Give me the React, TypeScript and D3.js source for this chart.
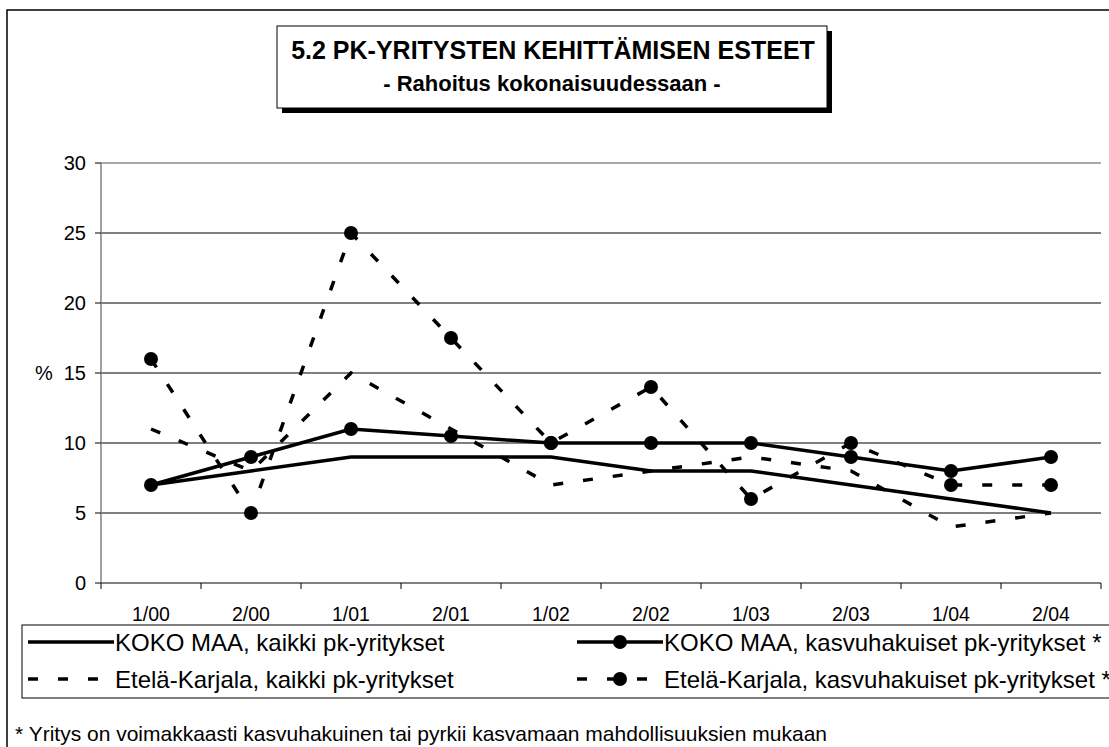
import * as d3 from "d3";

const categories = ["1/00", "2/00", "1/01", "2/01", "1/02", "2/02", "1/03", "2/03", "1/04", "2/04"];
const kokoKaikki = [7, 8, 9, 9, 9, 8, 8, 7, 6, 5];
const kokoKasvu = [7, 9, 11, 10.5, 10, 10, 10, 9, 8, 9];
const ekKaikki = [11, 8, 15, 11, 7, 8, 9, 8, 4, 5];
const ekKasvu = [16, 5, 25, 17.5, 10, 14, 6, 10, 7, 7];
const yTicks = [0, 5, 10, 15, 20, 25, 30];

const seriesNames = [
    "KOKO MAA, kaikki pk-yritykset",
    "KOKO MAA, kasvuhakuiset pk-yritykset *",
    "Etelä-Karjala, kaikki pk-yritykset",
    "Etelä-Karjala, kasvuhakuiset pk-yritykset *",
];

const width = 1109,
    height = 747;
const margin = { top: 163, bottom: 164, left: 101 };
const font = "Arial, 'Liberation Sans', sans-serif";
const DASH = "10,20";

function App() {
    const xScale = d3
        .scaleBand()
        .domain(categories)
        .range([margin.left, margin.left + 1000]);
    const yScale = d3
        .scaleLinear()
        .domain([0, 30])
        .range([height - margin.bottom, margin.top]);

    const cx = (i: number) => xScale(categories[i])! + xScale.bandwidth() / 2;

    const lineGenerator = d3
        .line<number>()
        .x((d, i) => cx(i))
        .y((d) => yScale(d));

    const series = [
        { name: seriesNames[0], values: kokoKaikki, dash: null, marker: false },
        { name: seriesNames[1], values: kokoKasvu, dash: null, marker: true },
        { name: seriesNames[2], values: ekKaikki, dash: DASH, marker: false },
        { name: seriesNames[3], values: ekKasvu, dash: DASH, marker: true },
    ];

    const x0 = xScale.range()[0];
    const x1 = xScale.range()[1];
    const y0 = yScale(0);

    // legend: kaksi saraketta, kaksi riviä
    const legendCols = [28, 577];
    const legendRows = [642, 679];

    return (
        <svg
            width={width}
            height={height}
            style={{ position: "absolute", left: 0, top: 0, background: "#fff" }}
            fontFamily={font}
        >
            <rect x={0} y={0} width={width} height={height} fill="#fff" />
            {/* outer frame */}
            <rect x={7} y={10} width={1120} height={760} fill="none" stroke="#000" strokeWidth={1.5} />

            {/* title */}
            <rect x={282} y={31} width={550} height={82} fill="#000" />
            <rect x={277} y={26} width={550} height={82} fill="#fff" stroke="#000" strokeWidth={1} />
            <text x={553} y={50} dy="0.36em" textAnchor="middle" fontSize={25} fontWeight="bold">
                5.2 PK-YRITYSTEN KEHITTÄMISEN ESTEET
            </text>
            <text x={552} y={83} dy="0.36em" textAnchor="middle" fontSize={22} fontWeight="bold">
                - Rahoitus kokonaisuudessaan -
            </text>

            {/* grid */}
            {yTicks.slice(1).map((t) => (
                <line
                    key={t}
                    x1={x0}
                    x2={x1}
                    y1={yScale(t)}
                    y2={yScale(t)}
                    stroke={t === 30 ? "#555" : "#000"}
                    strokeWidth={1}
                />
            ))}

            {/* y axis */}
            <line x1={x0} x2={x0} y1={yScale(30)} y2={y0} stroke="#808080" strokeWidth={1.5} />
            {yTicks.map((t) => (
                <g key={t}>
                    <line x1={x0 - 6} x2={x0} y1={yScale(t)} y2={yScale(t)} stroke="#000" />
                    <text x={86} y={yScale(t)} dy="0.36em" textAnchor="end" fontSize={20}>
                        {t}
                    </text>
                </g>
            ))}
            <text x={35} y={yScale(15)} dy="0.36em" fontSize={20}>
                %
            </text>

            {/* x axis */}
            <line x1={x0} x2={x1} y1={y0} y2={y0} stroke="#808080" strokeWidth={2} />
            {categories.map((c) => (
                <line key={"t" + c} x1={xScale(c)!} x2={xScale(c)!} y1={y0} y2={y0 + 6} stroke="#000" />
            ))}
            <line x1={x1} x2={x1} y1={y0} y2={y0 + 6} stroke="#000" />
            {categories.map((c, i) => (
                <text key={c} x={cx(i)} y={614} dy="0.36em" textAnchor="middle" fontSize={19.5}>
                    {c}
                </text>
            ))}

            {/* series */}
            {series.map((s) => (
                <g key={s.name}>
                    <path
                        d={lineGenerator(s.values)!}
                        fill="none"
                        stroke="#000"
                        strokeWidth={3.5}
                        strokeDasharray={s.dash ?? undefined}
                    />
                    {s.marker &&
                        s.values.map((v, i) => <circle key={i} cx={cx(i)} cy={yScale(v)} r={7} fill="#000" />)}
                </g>
            ))}

            {/* legend */}
            <rect x={22} y={625} width={1120} height={73} fill="#fff" stroke="#000" strokeWidth={1} />
            {series.map((s, i) => {
                const lx = legendCols[i % 2];
                const ly = legendRows[i < 2 ? 0 : 1];
                return (
                    <g key={"l" + s.name}>
                        <line
                            x1={lx}
                            x2={lx + 86}
                            y1={ly}
                            y2={ly}
                            stroke="#000"
                            strokeWidth={3.5}
                            strokeDasharray={s.dash ?? undefined}
                        />
                        {s.marker && <circle cx={lx + 43} cy={ly} r={7} fill="#000" />}
                        <text x={lx + 87} y={ly} dy="0.36em" fontSize={24}>
                            {s.name}
                        </text>
                    </g>
                );
            })}

            <text x={15} y={733} dy="0.36em" fontSize={21}>
                * Yritys on voimakkaasti kasvuhakuinen tai pyrkii kasvamaan mahdollisuuksien mukaan
            </text>
        </svg>
    );
}

export default App;
